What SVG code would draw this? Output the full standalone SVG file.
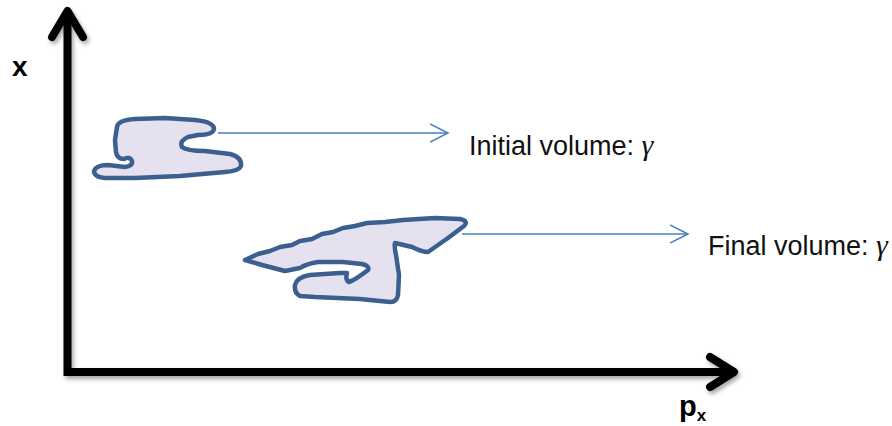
<svg xmlns="http://www.w3.org/2000/svg" width="892" height="426" viewBox="0 0 892 426">
  <style>
    .axis { fill: none; stroke: #000; stroke-width: 8; }
    .blob { fill: #e6e1ee; stroke: #3b5f8f; stroke-width: 4.5; stroke-linejoin: round; stroke-linecap: round; }
    .conn { fill: none; stroke: #4a7ebb; stroke-width: 1.5; }
    .lbl { font-family: "Liberation Sans", Arial, sans-serif; font-size: 27px; fill: #111; }
    .gam { font-family: "Liberation Serif", "DejaVu Serif", serif; font-style: italic; font-size: 30px; }
    .axlbl { font-family: "Liberation Sans", Arial, sans-serif; font-weight: bold; fill: #000; }
  </style>
  <defs>
    <filter id="shadow" x="-10%" y="-10%" width="120%" height="120%">
      <feDropShadow dx="2" dy="3" stdDeviation="2" flood-color="#000" flood-opacity="0.35"/>
    </filter>
    <marker id="open" markerWidth="20" markerHeight="22" refX="18" refY="10" orient="auto" markerUnits="userSpaceOnUse">
      <path d="M0,1 L18,10 L0,19" fill="none" stroke="#4a7ebb" stroke-width="1.5"/>
    </marker>
  </defs>
  <rect width="892" height="426" fill="#fff"/>

  <g id="axes" filter="url(#shadow)">
    <path class="axis" d="M67.5,12 V372 H734" stroke-linejoin="miter"/>
    <path class="axis" d="M52,37 L67.5,11 L83,37" stroke-linecap="round" stroke-linejoin="round"/>
    <path class="axis" d="M710,357 L734,372 L710,387" stroke-linecap="round" stroke-linejoin="round"/>
  </g>
  <g id="axis-labels">
    <text class="axlbl" x="12" y="76" font-size="28">x</text>
    <text class="axlbl" x="679" y="416" font-size="29">p<tspan font-size="17" dy="5">x</tspan></text>
  </g>

  <g id="blob-initial">
    <path class="blob" d="M117,127 Q118,120 135,119 L165,118 L195,120 Q214,122 214,129 Q213,135 198,135 L188,137 Q179,141 182,147 Q187,151 205,151 L230,154 Q242,157 241,166 Q239,171 225,172 L180,176 L135,178 L105,178 Q94,177 94,171 Q96,165 108,165 L125,167 Q133,166 132,161 Q130,156 124,159 Q117,159 116,152 L115,140 Z"/>
  </g>

  <g id="blob-final">
    <path class="blob" d="M245,260 L258,254 L270,251 L280,247 L292,245 L300,241 L312,239 L322,234 L333,232 L343,228 L355,226 L367,223 L385,222 L403,220 L435,218 L460,219 Q469,221 464,226 L448,238 L428,252 Q422,252 412,247 L395,243 Q394,246 396,255 L399,275 L398,295 Q397,302 390,302 L360,299 L315,297 L300,296 Q294,293 295,285 Q297,277 310,275 L340,273 L347,273 Q345,280 349,282 Q355,280 368,270 Q370,266 362,264 L343,262 L318,262 Q306,264 300,268 L285,271 L262,265 Z"/>
  </g>

  <g id="connectors">
    <path class="conn" d="M218,133 H448" marker-end="url(#open)"/>
    <path class="conn" d="M462,234 H688" marker-end="url(#open)"/>
  </g>

  <g id="label-initial">
    <text class="lbl" x="469" y="155">Initial volume: <tspan class="gam">γ</tspan></text>
  </g>
  <g id="label-final">
    <text class="lbl" x="708" y="255">Final volume: <tspan class="gam">γ</tspan></text>
  </g>
</svg>
